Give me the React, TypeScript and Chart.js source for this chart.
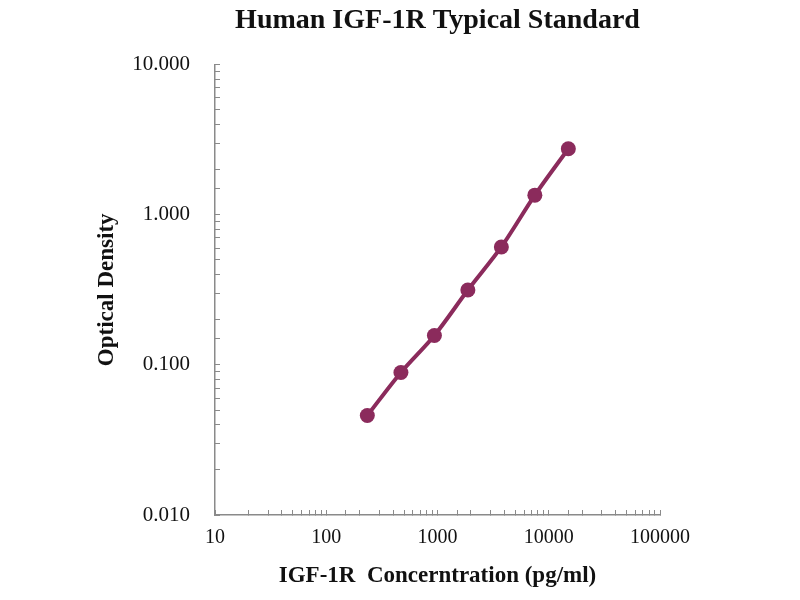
import React, { useEffect, useRef } from "react";
import { Chart, registerables } from "chart.js";

Chart.register(...registerables);

const concentrations = [234, 469, 938, 1875, 3750, 7500, 15000];
const opticalDensity = [0.046, 0.089, 0.157, 0.315, 0.61, 1.35, 2.75];
const xTickLabels = ["10", "100", "1000", "10000", "100000"];
const yTickLabels = ["0.010", "0.100", "1.000", "10.000"];

const titleText = "Human IGF-1R Typical Standard";
const xTitle = "IGF-1R  Concerntration (pg/ml)";
const yTitle = "Optical Density";

const FONT = "'Liberation Serif', 'Times New Roman', serif";
const LINE_COLOR = "#8B2B5C";
const AXIS_COLOR = "#8a8a8a";

function isPow10(v: number) {
  const l = Math.log10(v);
  return Math.abs(l - Math.round(l)) < 1e-6;
}

export default function App() {
  const ref = useRef<HTMLCanvasElement | null>(null);

  useEffect(() => {
    document.body.style.margin = "0";
    const canvas = ref.current;
    if (!canvas) return;
    const chart = new Chart(canvas, {
      type: "scatter",
      data: {
        datasets: [
          {
            data: concentrations.map((c, i) => ({ x: c, y: opticalDensity[i] })),
            showLine: true,
            borderColor: LINE_COLOR,
            backgroundColor: LINE_COLOR,
            borderWidth: 4,
            pointRadius: 7.5,
            pointHoverRadius: 7.5,
            pointBorderWidth: 0,
            tension: 0.3,
          },
        ],
      },
      options: {
        responsive: false,
        animation: false,
        layout: { padding: { left: 90, right: 140, top: 0, bottom: 10 } },
        plugins: {
          legend: { display: false },
          tooltip: { enabled: false },
          title: {
            display: true,
            text: titleText,
            fullSize: false,
            color: "#111",
            font: { family: FONT, size: 28, weight: "bold" },
            padding: { top: 4, bottom: 27 },
          },
        },
        scales: {
          x: {
            type: "logarithmic",
            min: 10,
            max: 100000,
            afterFit: (s: any) => {
              s.height = 75;
            },
            border: { display: true, color: AXIS_COLOR, width: 1.5 },
            grid: {
              drawOnChartArea: false,
              drawTicks: true,
              tickLength: -5,
              color: AXIS_COLOR,
              lineWidth: 1,
            },
            ticks: {
              autoSkip: false,
              maxRotation: 0,
              padding: 16,
              color: "#111",
              font: { family: FONT, size: 20 },
              callback: (v: any) => {
                const n = Number(v);
                if (!isPow10(n)) return "";
                const idx = Math.round(Math.log10(n)) - 1;
                return xTickLabels[idx] ?? "";
              },
            },
            title: {
              display: true,
              text: xTitle,
              color: "#111",
              font: { family: FONT, size: 23, weight: "bold" },
              padding: { top: 0, bottom: 0 },
            },
          },
          y: {
            type: "logarithmic",
            min: 0.01,
            max: 10,
            afterFit: (s: any) => {
              s.width = 125;
            },
            border: { display: true, color: AXIS_COLOR, width: 1.5 },
            grid: {
              drawOnChartArea: false,
              drawTicks: true,
              tickLength: -5,
              color: AXIS_COLOR,
              lineWidth: 1,
            },
            ticks: {
              autoSkip: false,
              padding: 30,
              color: "#111",
              font: { family: FONT, size: 21 },
              callback: (v: any) => {
                const n = Number(v);
                if (!isPow10(n)) return "";
                const idx = Math.round(Math.log10(n)) + 2;
                return yTickLabels[idx] ?? "";
              },
            },
            title: {
              display: true,
              text: yTitle,
              color: "#111",
              font: { family: FONT, size: 23, weight: "bold" },
              padding: { top: 3, bottom: 0 },
            },
          },
        },
      },
    } as any);
    return () => chart.destroy();
  }, []);

  return (
    <canvas
      ref={ref}
      width={800}
      height={600}
      style={{ position: "absolute", left: 0, top: 0, width: 800, height: 600 }}
    />
  );
}
